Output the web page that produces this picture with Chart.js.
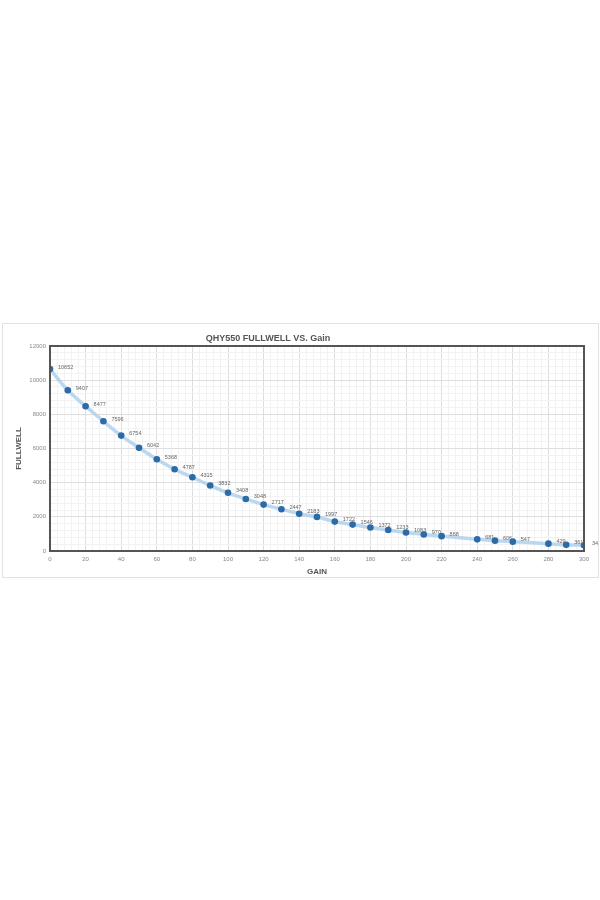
<!DOCTYPE html>
<html>
<head>
<meta charset="utf-8">
<script src="https://cdn.jsdelivr.net/npm/chart.js@4"></script>
<style>
  html, body { margin: 0; padding: 0; background: #fff; }
  body { width: 600px; height: 900px; position: relative; overflow: hidden; }
  #box {
    position: absolute; left: 2px; top: 323px;
    width: 595px; height: 253px;
    border: 1px solid #e2e2e2;
  }
</style>
</head>
<body>
<div id="box"><canvas id="gainChart"></canvas></div>
<script>
// gain steps and measured full well (e-)
const gains = [0,10,20,30,40,50,60,70,80,90,100,110,120,130,140,150,160,170,180,190,200,210,220,240,250,260,280,290,300];
const fullwell = [10652,9407,8477,7596,6754,6042,5368,4787,4315,3832,3408,3048,2717,2447,2183,1997,1722,1546,1372,1233,1083,970,868,681,606,547,429,361,340];
const xTicks = [0,20,40,60,80,100,120,140,160,180,200,220,240,260,280,300];
const yTicks = [0,2000,4000,6000,8000,10000,12000];

const chartTitle = 'QHY550 FULLWELL VS. Gain';
const font = '"Liberation Sans", Arial, sans-serif';

// frame + title + point labels
const extras = {
  id: 'extras',
  afterDatasetsDraw(chart) {
    const ctx = chart.ctx;
    const a = chart.chartArea;
    ctx.save();
    ctx.strokeStyle = '#555';
    ctx.lineWidth = 2;
    ctx.strokeRect(a.left, a.top, a.right - a.left, a.bottom - a.top);

    ctx.fillStyle = '#555';
    ctx.font = 'bold 9px ' + font;
    ctx.textAlign = 'center';
    ctx.textBaseline = 'middle';
    ctx.fillText(chartTitle, 265, 15);

    ctx.fillStyle = '#666';
    ctx.font = '5.5px ' + font;
    ctx.textAlign = 'left';
    const meta = chart.getDatasetMeta(0);
    meta.data.forEach((pt, i) => {
      ctx.fillText(String(fullwell[i]), pt.x + 8, pt.y - 2);
    });
    ctx.restore();
  }
};

function isMajor(v, step) { return Math.abs(v % step) < 1e-6; }

new Chart(document.getElementById('gainChart').getContext('2d'), {
  type: 'line',
  data: {
    datasets: [{
      label: 'fullwell',
      data: gains.map((g, i) => ({ x: g, y: fullwell[i] })),
      borderColor: 'rgba(170,206,238,0.8)',
      borderWidth: 3.5,
      cubicInterpolationMode: 'monotone',
      pointRadius: 3.3,
      pointBackgroundColor: '#2d6aa8',
      pointBorderWidth: 0,
      fill: false
    }]
  },
  options: {
    responsive: true,
    maintainAspectRatio: false,
    animation: false,
    layout: { padding: { left: 0, right: 14, top: 22, bottom: 0 } },
    plugins: { legend: { display: false }, tooltip: { enabled: false } },
    scales: {
      x: {
        type: 'linear', min: 0, max: 300,
        afterBuildTicks(s) { s.ticks = []; for (let v = 0; v <= 300; v += 4) s.ticks.push({ value: v }); },
        afterFit(s) { s.height = 26; },
        border: { display: false },
        grid: {
          drawTicks: false,
          color: c => isMajor(c.tick.value, 20) ? '#dedede' : '#f2f2f2',
          lineWidth: 1
        },
        ticks: {
          autoSkip: false, maxRotation: 0, padding: 5,
          color: '#888', font: { size: 6, family: font },
          callback: v => xTicks.includes(v) ? String(v) : ''
        },
        title: {
          display: true, text: 'GAIN', color: '#555',
          font: { size: 8, weight: 'bold', family: font }, padding: { top: 1, bottom: 0 }
        }
      },
      y: {
        min: 0, max: 12000,
        afterBuildTicks(s) { s.ticks = []; for (let v = 0; v <= 12000; v += 400) s.ticks.push({ value: v }); },
        afterFit(s) { s.width = 47; },
        border: { display: false },
        grid: {
          drawTicks: false,
          color: c => isMajor(c.tick.value, 2000) ? '#dedede' : '#f2f2f2',
          lineWidth: 1
        },
        ticks: {
          autoSkip: false, padding: 4,
          color: '#888', font: { size: 6, family: font },
          callback: v => yTicks.includes(v) ? String(v) : ''
        },
        title: {
          display: true, text: 'FULLWELL', color: '#555',
          font: { size: 8, weight: 'bold', family: font }, padding: { top: 11, bottom: 0 }
        }
      }
    }
  },
  plugins: [extras]
});
</script>
</body>
</html>
